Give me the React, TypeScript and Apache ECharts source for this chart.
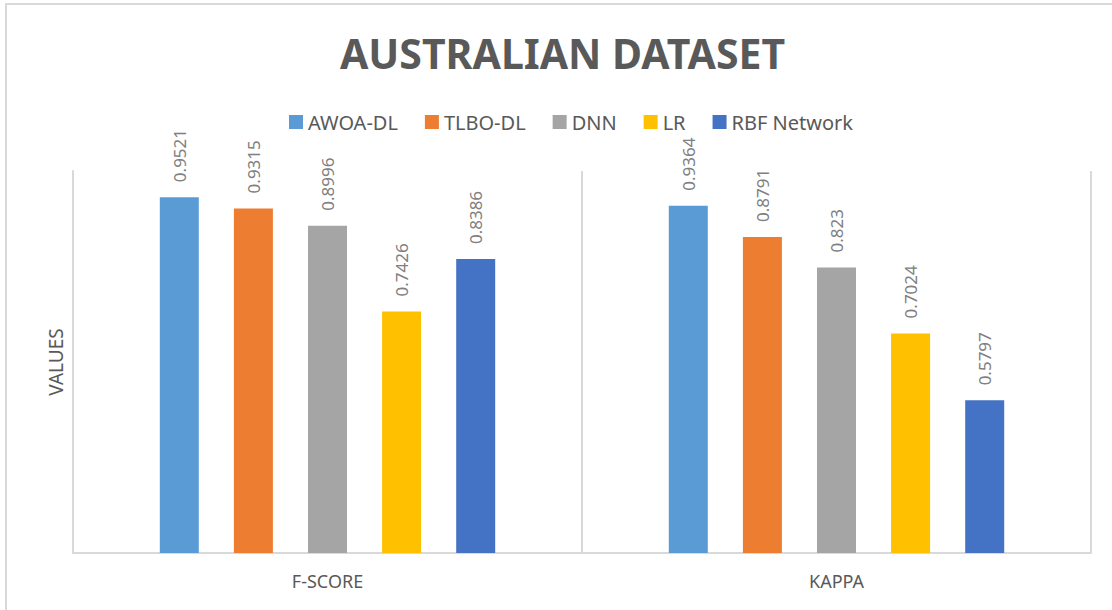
import React, { useEffect, useRef } from "react";
import * as echarts from "echarts";

const categories = ["F-SCORE", "KAPPA"];
const seriesNames = ["AWOA-DL", "TLBO-DL", "DNN", "LR", "RBF Network"];
const awoaDL = [0.9521, 0.9364];
const tlboDL = [0.9315, 0.8791];
const dnn = [0.8996, 0.823];
const lr = [0.7426, 0.7024];
const rbf = [0.8386, 0.5797];
const seriesValues = [awoaDL, tlboDL, dnn, lr, rbf];
const colors = ["#5B9BD5", "#ED7D31", "#A5A5A5", "#FFC000", "#4472C4"];

export default function App() {
  const ref = useRef<HTMLDivElement>(null);
  useEffect(() => {
    if (!ref.current) return;
    const chart = echarts.init(ref.current, null, { renderer: "svg" });
    const font = "'Noto Sans', sans-serif";
    chart.setOption({
      animation: false,
      backgroundColor: "#ffffff",
      color: colors,
      title: {
        text: "AUSTRALIAN DATASET",
        left: 335,
        top: 27,
        textStyle: { fontFamily: font, fontSize: 41, fontWeight: "bold", color: "#595959" },
      },
      legend: {
        data: seriesNames,
        top: 107,
        left: 284,
        itemWidth: 14,
        itemHeight: 14,
        itemGap: 27,
        icon: "rect",
        textStyle: { fontFamily: font, fontSize: 20, color: "#595959" },
      },
      graphic: [
        {
          type: "rect",
          shape: { x: 6, y: 4, width: 1200, height: 700 },
          style: { fill: "none", stroke: "#d9d9d9", lineWidth: 2 },
          silent: true,
        },
      ],
      grid: { left: 73, right: 21, top: 171, bottom: 57 },
      xAxis: {
        type: "category",
        data: categories,
        axisLine: { show: true, lineStyle: { color: "#d9d9d9", width: 2 } },
        axisTick: { show: false },
        splitLine: { show: true, lineStyle: { color: "#d9d9d9", width: 2 } },
        axisLabel: { fontFamily: font, fontSize: 18, color: "#595959", margin: 19 },
      },
      yAxis: {
        type: "value",
        min: 0.3,
        max: 1.0,
        interval: 0.1,
        name: "VALUES",
        nameLocation: "middle",
        nameGap: 8,
        nameTextStyle: { fontFamily: font, fontSize: 19, color: "#595959" },
        axisLine: { show: true, lineStyle: { color: "#d9d9d9", width: 2 } },
        axisTick: { show: false },
        axisLabel: { show: false },
        splitLine: { show: false },
      },
      series: seriesNames.map((name, i) => ({
        name,
        type: "bar",
        data: seriesValues[i],
        barWidth: 39,
        barGap: "90%",
        itemStyle: { color: colors[i] },
        label: {
          show: true,
          position: "top",
          distance: 15,
          rotate: 90,
          align: "left",
          verticalAlign: "middle",
          fontFamily: font,
          fontSize: 17,
          color: "#808080",
        },
      })),
    });
    return () => chart.dispose();
  }, []);
  return (
    <div
      ref={ref}
      style={{ position: "fixed", left: 0, top: 0, width: 1112, height: 610 }}
    />
  );
}
